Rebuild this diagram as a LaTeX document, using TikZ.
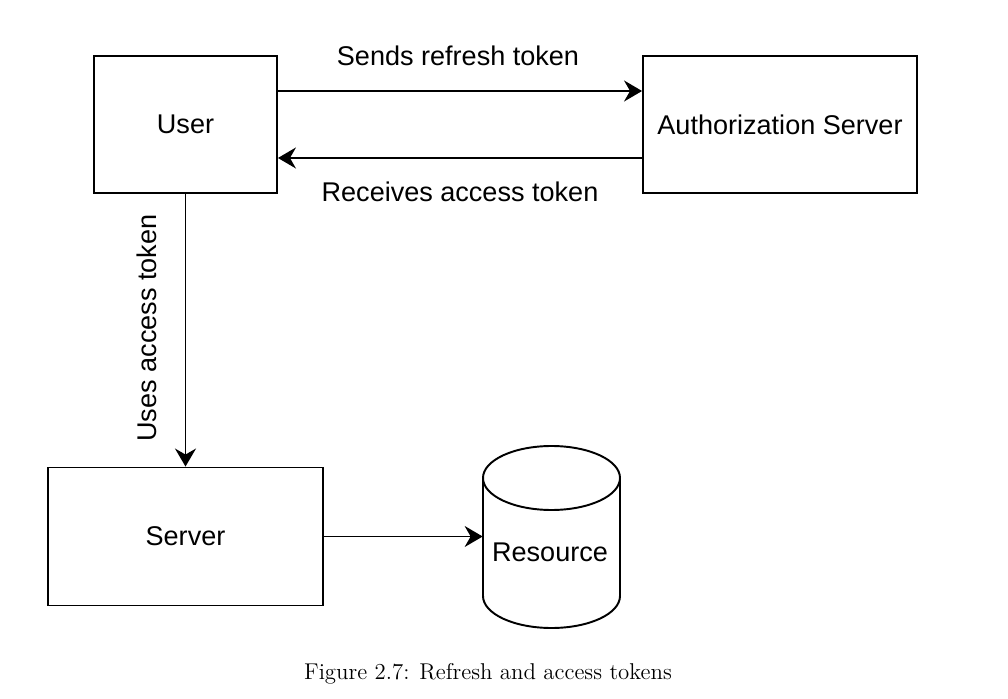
\documentclass[tikz,border=0pt]{standalone}
\usepackage{fontspec}
\usetikzlibrary{arrows.meta}
\newfontfamily\drawfont{Liberation Sans}

\begin{document}
\begin{tikzpicture}[x=0.02cm,y=0.02cm,
  box/.style={draw,line width=1.1pt,minimum width=#1,minimum height=2.74cm,inner sep=0pt},
  arr/.style={-{Stealth[length=0.36cm,width=0.42cm,inset=0.12cm]},line width=1.1pt},
  lbl/.style={font=\drawfont\fontsize{15.4}{18}\selectfont}]
\useasboundingbox (0,0) rectangle (1008,-699);
\node[box=3.66cm,lbl] (user) at (185.5,-124.5) {User};
\node[box=5.48cm,lbl] (auth) at (780,-124.5) {Authorization Server};
\node[box=5.5cm,lbl,minimum height=2.76cm] (srv) at (185.5,-536.5) {Server};
\node[minimum width=2.74cm,minimum height=3.64cm,inner sep=0pt] (res) at (551.5,-536.5) {};
\draw[line width=1.1pt] (551.5,-478) ellipse [x radius=68.5,y radius=32];
\draw[line width=1.1pt] (483,-478)--(483,-596) arc[start angle=180,end angle=360,x radius=68.5,y radius=32]--(620,-478);
\node[lbl] (reslbl) at (550,-552) {Resource};

\draw[arr] ([yshift=0.67cm]user.east)--([yshift=0.67cm]auth.west);
\draw[arr] ([yshift=-0.67cm]auth.west)--([yshift=-0.67cm]user.east);
\draw[arr] (user)--(srv);
\draw[arr] (srv.east)--(res.west);

\node[lbl] (sendlbl) at (458,-56) {Sends refresh token};
\node[lbl] (recvlbl) at (460,-192) {Receives access token};
\node[lbl,rotate=90] (uselbl) at (147,-328) {Uses access token};
\node[font=\fontsize{13}{15}\selectfont] (cap) at (488,-674) {Figure 2.7: Refresh and access tokens};
\end{tikzpicture}
\end{document}
